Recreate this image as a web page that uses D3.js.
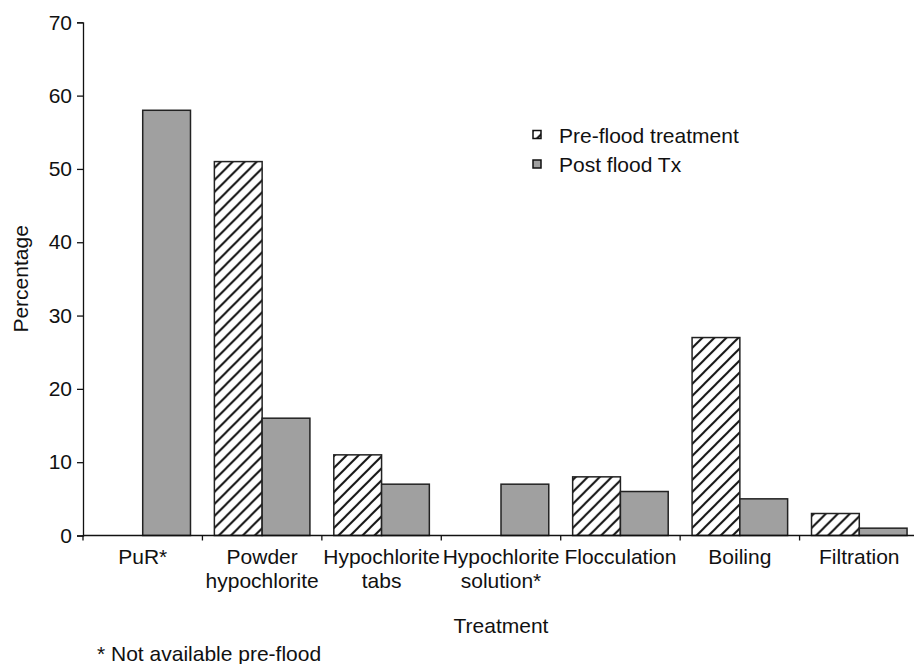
<!DOCTYPE html>
<html>
<head>
<meta charset="utf-8">
<script src="https://cdn.jsdelivr.net/npm/d3@7"></script>
<style>
  body { margin: 0; background: #fff; }
  text { font-family: "Liberation Sans", Arial, sans-serif; fill: #111; }
</style>
</head>
<body>
<script>
// chart data
var categories = [["PuR*"], ["Powder", "hypochlorite"], ["Hypochlorite", "tabs"],
                  ["Hypochlorite", "solution*"], ["Flocculation"], ["Boiling"], ["Filtration"]];
var seriesNames = ["Pre-flood treatment", "Post flood Tx"];
var preFlood = [null, 51, 11, null, 8, 27, 3];
var postFlood = [58, 16, 7, 7, 6, 5, 1];
var yTicks = [0, 10, 20, 30, 40, 50, 60, 70];

var width = 914, height = 664;
var plotLeft = 83, plotRight = 919, plotTop = 22.3, plotBottom = 535.5;
var fontSize = "21px";

var svg = d3.select("body").append("svg")
    .attr("width", width)
    .attr("height", height);

// hatch pattern for pre-flood bars
var defs = svg.append("defs");
defs.append("pattern")
    .attr("id", "hatch")
    .attr("patternUnits", "userSpaceOnUse")
    .attr("width", 12).attr("height", 12)
  .append("path")
    .attr("d", "M0,12 L12,0 M-3,3 L3,-3 M9,15 L15,9")
    .attr("stroke", "#111")
    .attr("stroke-width", 2);

var x0 = d3.scaleBand()
    .domain(d3.range(categories.length))
    .range([plotLeft, plotRight])
    .paddingInner(0)
    .paddingOuter(0);

var x1 = d3.scaleBand()
    .domain([0, 1])
    .range([0, x0.bandwidth()])
    .paddingOuter(0.25);

var y = d3.scaleLinear()
    .domain([0, 70])
    .range([plotBottom, plotTop]);

// bars
var rows = categories.map(function(c, i) {
  return [{s: 0, v: preFlood[i]}, {s: 1, v: postFlood[i]}];
});

var group = svg.selectAll(".grp")
    .data(rows)
  .enter().append("g")
    .attr("class", "grp")
    .attr("transform", function(d, i) { return "translate(" + x0(i) + ",0)"; });

group.selectAll("rect")
    .data(function(d) { return d.filter(function(e) { return e.v != null; }); })
  .enter().append("rect")
    .attr("x", function(d) { return x1(d.s); })
    .attr("width", x1.bandwidth())
    .attr("y", function(d) { return y(d.v); })
    .attr("height", function(d) { return y(0) - y(d.v); })
    .attr("fill", function(d) { return d.s == 0 ? "url(#hatch)" : "#a0a0a0"; })
    .attr("stroke", "#222")
    .attr("stroke-width", 1.5);

// y axis
var yAxis = svg.append("g")
    .attr("transform", "translate(" + plotLeft + ",0)")
    .call(d3.axisLeft(y).tickValues(yTicks).tickSize(6).tickPadding(5));
yAxis.select(".domain").attr("stroke", "#111").attr("stroke-width", 1.3);
yAxis.selectAll(".tick line").attr("stroke", "#111").attr("stroke-width", 1.3);
yAxis.selectAll(".tick text").style("font-size", fontSize)
    .attr("font-family", null).attr("fill", "#111");

// x axis line with separator ticks
var xAxis = svg.append("g");
xAxis.append("line")
    .attr("x1", plotLeft).attr("x2", plotRight)
    .attr("y1", y(0)).attr("y2", y(0))
    .attr("stroke", "#111").attr("stroke-width", 1.3);
xAxis.selectAll(".sep")
    .data(d3.range(categories.length))
  .enter().append("line")
    .attr("x1", function(i) { return x0(i); })
    .attr("x2", function(i) { return x0(i); })
    .attr("y1", y(0)).attr("y2", y(0) + 5)
    .attr("stroke", "#111").attr("stroke-width", 1.3);

// category labels
var lab = svg.selectAll(".cat")
    .data(categories)
  .enter().append("text")
    .attr("class", "cat")
    .attr("text-anchor", "middle")
    .style("font-size", fontSize)
    .attr("transform", function(d, i) {
      return "translate(" + (x0(i) + x0.bandwidth() / 2) + ",563.5)"; });
lab.selectAll("tspan")
    .data(function(d) { return d; })
  .enter().append("tspan")
    .attr("x", 0)
    .attr("dy", function(d, i) { return i == 0 ? 0 : 24.5; })
    .text(function(d) { return d; });

// axis titles
svg.append("text")
    .attr("text-anchor", "middle")
    .attr("transform", "translate(28," + ((plotTop + plotBottom) / 2) + ") rotate(-90)")
    .style("font-size", fontSize)
    .text("Percentage");

svg.append("text")
    .attr("text-anchor", "middle")
    .attr("x", (plotLeft + plotRight) / 2)
    .attr("y", 633)
    .style("font-size", fontSize)
    .text("Treatment");

svg.append("text")
    .attr("x", 97)
    .attr("y", 661)
    .style("font-size", fontSize)
    .text("* Not available pre-flood");

// legend
var legend = svg.selectAll(".leg")
    .data(seriesNames)
  .enter().append("g")
    .attr("class", "leg")
    .attr("transform", function(d, i) { return "translate(533," + (130.5 + i * 29.5) + ")"; });
legend.append("rect")
    .attr("width", 8).attr("height", 8)
    .attr("fill", function(d, i) { return i == 0 ? "url(#hatch)" : "#a0a0a0"; })
    .attr("stroke", "#111")
    .attr("stroke-width", 1.5);
legend.append("text")
    .attr("x", 26)
    .attr("y", 12)
    .style("font-size", fontSize)
    .text(function(d) { return d; });
</script>
</body>
</html>
